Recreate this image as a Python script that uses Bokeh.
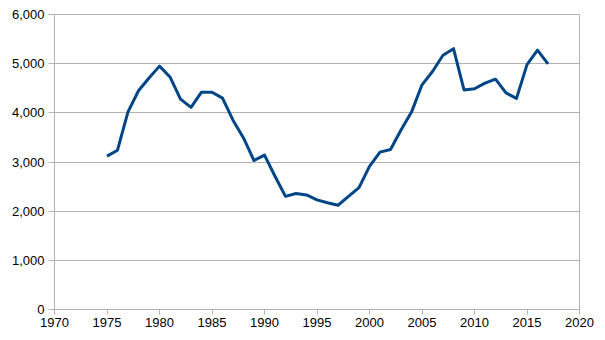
from bokeh.plotting import figure
from bokeh.models import Range1d, NumeralTickFormatter, FixedTicker
from bokeh.embed import file_html
from bokeh.resources import INLINE

years = list(range(1975, 2018))
values = [3120, 3240, 4020, 4450, 4710, 4950, 4730, 4280, 4110, 4420,
          4420, 4300, 3850, 3490, 3030, 3140, 2710, 2300, 2360, 2330,
          2230, 2170, 2120, 2300, 2480, 2910, 3200, 3255, 3650, 4015,
          4570, 4840, 5170, 5305, 4465, 4490, 4605, 4685, 4405, 4295,
          4980, 5275, 4995]
x_ticks = [1970, 1975, 1980, 1985, 1990, 1995, 2000, 2005, 2010, 2015, 2020]
y_ticks = [0, 1000, 2000, 3000, 4000, 5000, 6000]

p = figure(width=596, height=331, output_backend="svg", toolbar_location=None,
           x_range=Range1d(1970, 2020), y_range=Range1d(0, 6000),
           min_border_left=54, min_border_right=17, min_border_top=14,
           min_border_bottom=22)

p.line(years, values, line_color="#004586", line_width=3, line_join="round")

gray = "#b3b3b3"
p.outline_line_color = gray
p.xgrid.grid_line_color = None
p.ygrid.grid_line_color = gray
p.ygrid.ticker = FixedTicker(ticks=y_ticks)

p.xaxis.ticker = FixedTicker(ticks=x_ticks)
p.yaxis.ticker = FixedTicker(ticks=y_ticks)
p.yaxis.formatter = NumeralTickFormatter(format="0,0")
for ax in (p.xaxis, p.yaxis):
    ax.axis_line_color = gray
    ax.major_tick_line_color = gray
    ax.major_tick_in = 0
    ax.major_tick_out = 5
    ax.minor_tick_line_color = None
    ax.major_label_text_font = "Liberation Sans"
    ax.major_label_text_font_size = "13px"
    ax.major_label_text_color = "#000000"
    ax.major_label_standoff = 3
p.yaxis.major_tick_out = 6
p.yaxis.major_label_standoff = 4

open("out.html", "w").write(file_html(p, INLINE))
